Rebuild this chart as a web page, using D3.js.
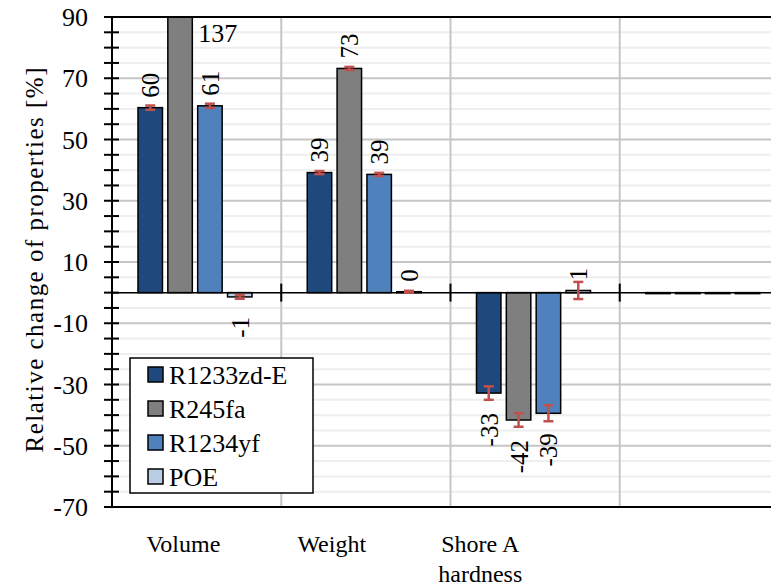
<!DOCTYPE html>
<html>
<head>
<meta charset="utf-8">
<script src="https://cdn.jsdelivr.net/npm/d3@7"></script>
</head>
<body style="margin:0">
<svg id="fig" width="771" height="587"></svg>
<script>
// chart data
const categories = ["Volume", "Weight", "Shore A\nhardness", ""];
const series = ["R1233zd-E", "R245fa", "R1234yf", "POE"];
const colors = ["#1f497d", "#7f7f7f", "#4f81bd", "#b9cde5"];

const r1233zdE = [60.4, 39.2, -32.8, 0];
const r245fa   = [137, 73.2, -41.6, 0];
const r1234yf  = [61, 38.6, -39.4, 0];
const poe      = [-1.4, 0.3, 0.7, 0];

const errR1233zdE = [0.7, 0.5, 2.2, 0];
const errR245fa   = [0.8, 0.5, 2.2, 0];
const errR1234yf  = [0.7, 0.5, 2.6, 0];
const errPoe      = [0.6, 0.3, 2.8, 0];

const yTicks = [-70, -50, -30, -10, 10, 30, 50, 70, 90];
const yTitle = "Relative  change  of properties  [%]";

const values = [r1233zdE, r245fa, r1234yf, poe];
const errors = [errR1233zdE, errR245fa, errR1234yf, errPoe];
const FONT = "Liberation Serif";

const rows = [];
categories.forEach((c, i) => {
  series.forEach((s, j) => {
    rows.push({cat: c, ser: s, color: colors[j], v: values[j][i], e: errors[j][i]});
  });
});

const svg = d3.select("#fig");
const pLeft = 112, pTop = 17, pBottom = 507, pRight = 789;

const y = d3.scaleLinear().domain([-70, 90]).range([pBottom, pTop]);
const x0 = d3.scaleBand().domain(categories).range([pLeft, pRight]);
const x1 = d3.scaleBand().domain(series).range([23, 143]).paddingInner(0.18).paddingOuter(0.1);
const xLab = d3.scaleBand().domain(categories).range([109, 703]);

svg.append("clipPath").attr("id", "plotclip")
  .append("rect").attr("x", pLeft).attr("y", pTop).attr("width", 771 - pLeft).attr("height", pBottom - pTop);

// minor gridlines every 5
const minor = d3.range(-70, 91, 5).filter(v => !yTicks.includes(v));
svg.append("g").selectAll("line").data(minor).enter().append("line")
  .attr("x1", pLeft).attr("x2", 771)
  .attr("y1", d => y(d)).attr("y2", d => y(d))
  .attr("stroke", "#eeeeee").attr("stroke-width", 2);

// major gridlines
svg.append("g").selectAll("line").data(yTicks).enter().append("line")
  .attr("x1", pLeft).attr("x2", 771)
  .attr("y1", d => y(d)).attr("y2", d => y(d))
  .attr("stroke", "#c6c6c6").attr("stroke-width", 2);

// vertical gridlines between categories
svg.append("g").selectAll("line").data(categories.slice(1)).enter().append("line")
  .attr("x1", d => x0(d)).attr("x2", d => x0(d))
  .attr("y1", pTop).attr("y2", pBottom)
  .attr("stroke", "#c6c6c6").attr("stroke-width", 2);

// bars
svg.append("g").attr("clip-path", "url(#plotclip)")
  .selectAll("rect").data(rows).enter().append("rect")
  .attr("x", d => x0(d.cat) + x1(d.ser))
  .attr("width", x1.bandwidth())
  .attr("y", d => y(Math.max(0, d.v)))
  .attr("height", d => Math.max(1, Math.abs(y(d.v) - y(0))))
  .attr("fill", d => d.color)
  .attr("stroke", "#000").attr("stroke-width", 1.5);

// zero line with category ticks
svg.append("line").attr("x1", pLeft).attr("x2", 771)
  .attr("y1", y(0)).attr("y2", y(0)).attr("stroke", "#000").attr("stroke-width", 1.5);
svg.append("g").selectAll("line").data(categories.slice(1)).enter().append("line")
  .attr("x1", d => x0(d)).attr("x2", d => x0(d))
  .attr("y1", y(0) - 9).attr("y2", y(0) + 9)
  .attr("stroke", "#000").attr("stroke-width", 2);

// error bars
const cx = d => x0(d.cat) + x1(d.ser) + x1.bandwidth() / 2;
const eb = svg.append("g").attr("clip-path", "url(#plotclip)")
  .selectAll("g").data(rows.filter(d => d.e > 0)).enter().append("g")
  .attr("stroke", "#c0504d").attr("stroke-width", 2.5);
eb.append("line").attr("x1", cx).attr("x2", cx)
  .attr("y1", d => y(d.v - d.e)).attr("y2", d => y(d.v + d.e));
eb.append("line").attr("x1", d => cx(d) - 5).attr("x2", d => cx(d) + 5)
  .attr("y1", d => y(d.v - d.e)).attr("y2", d => y(d.v - d.e));
eb.append("line").attr("x1", d => cx(d) - 5).attr("x2", d => cx(d) + 5)
  .attr("y1", d => y(d.v + d.e)).attr("y2", d => y(d.v + d.e));

// frame and y axis
svg.append("line").attr("x1", pLeft).attr("x2", 771).attr("y1", pTop).attr("y2", pTop)
  .attr("stroke", "#000").attr("stroke-width", 2);
svg.append("line").attr("x1", pLeft).attr("x2", 771).attr("y1", pBottom).attr("y2", pBottom)
  .attr("stroke", "#000").attr("stroke-width", 2);
svg.append("line").attr("x1", pLeft).attr("x2", pLeft).attr("y1", pTop).attr("y2", pBottom + 1)
  .attr("stroke", "#000").attr("stroke-width", 2);
svg.append("g").selectAll("line").data(d3.range(-70, 91, 5)).enter().append("line")
  .attr("x1", pLeft - 8).attr("x2", pLeft + 7)
  .attr("y1", d => y(d)).attr("y2", d => y(d))
  .attr("stroke", "#000").attr("stroke-width", 2);

svg.append("g").selectAll("text").data(yTicks).enter().append("text")
  .attr("font-family", FONT).attr("font-size", 26)
  .attr("x", 88).attr("y", d => y(d) + 9)
  .attr("text-anchor", "end")
  .text(d => d);

svg.append("text")
  .attr("font-family", FONT).attr("font-size", 25)
  .attr("transform", "translate(43,260) rotate(-90)")
  .attr("text-anchor", "middle")
  .attr("textLength", 385).attr("lengthAdjust", "spacing")
  .text(yTitle);

// data labels, plain hyphen for negatives
const fmt = v => d3.format(".0f")(v).replace("\u2212", "-");
const lab = svg.append("g");
rows.filter(d => d.cat !== "").forEach(d => {
  const bx = cx(d);
  if (d.v > y.domain()[1]) {
    lab.append("text").attr("font-family", FONT).attr("font-size", 26)
      .attr("x", x0(d.cat) + x1(d.ser) + x1.bandwidth() + 6)
      .attr("y", pTop + 25).text(fmt(d.v));
  } else if (d.v >= 0) {
    lab.append("text").attr("font-family", FONT).attr("font-size", 25)
      .attr("transform", `translate(${bx + 9},${y(d.v) - 10}) rotate(-90)`)
      .attr("text-anchor", "start").text(fmt(d.v));
  } else {
    lab.append("text").attr("font-family", FONT).attr("font-size", 25)
      .attr("transform", `translate(${bx + 9},${y(d.v) + 20}) rotate(-90)`)
      .attr("text-anchor", "end").text(fmt(d.v));
  }
});

// x labels
const xl = svg.append("g");
categories.forEach(c => {
  c.split("\n").forEach((line, i) => {
    xl.append("text").attr("font-family", FONT).attr("font-size", 24)
      .attr("x", xLab(c) + xLab.bandwidth() / 2)
      .attr("y", 552 + i * 30).attr("text-anchor", "middle").text(line);
  });
});

// legend
const lg = svg.append("g");
lg.append("rect").attr("x", 130).attr("y", 358).attr("width", 183).attr("height", 135)
  .attr("fill", "#fff").attr("stroke", "#000").attr("stroke-width", 1.5);
const li = lg.selectAll("g.item").data(series).enter().append("g")
  .attr("transform", (d, i) => `translate(148,${374.5 + i * 34})`);
li.append("rect").attr("x", 0).attr("y", -7.5).attr("width", 15).attr("height", 15)
  .attr("fill", (d, i) => colors[i]).attr("stroke", "#000").attr("stroke-width", 1.5);
li.append("text").attr("font-family", FONT).attr("font-size", 26)
  .attr("x", 21).attr("y", 9).text(d => d);
</script>
</body>
</html>
